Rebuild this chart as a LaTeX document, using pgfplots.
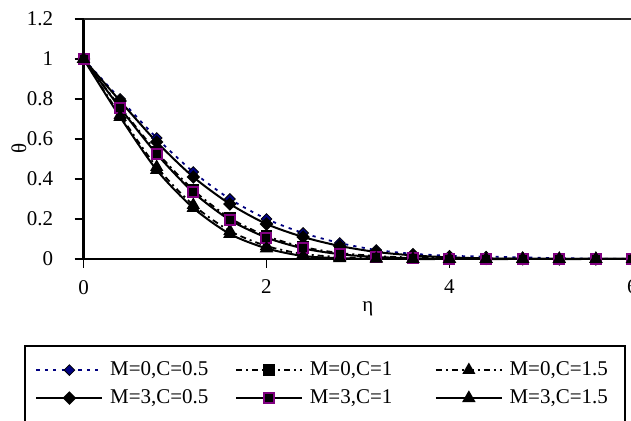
\documentclass[border=0pt]{standalone}
\usepackage{fontspec}
\setmainfont{Liberation Serif}
\usepackage{pgfplots}
\pgfplotsset{compat=1.18}
\definecolor{navyb}{RGB}{0,0,128}
\definecolor{purp}{RGB}{128,0,128}
\begin{document}
\begin{tikzpicture}
\begin{axis}[
  at={(41.75pt,81pt)}, anchor=south west,
  width=274.5pt, height=120pt, scale only axis,
  font=\fontsize{10.5}{12.6}\selectfont,
  xmin=0, xmax=6, ymin=0, ymax=1.2,
  xtick={0,2,4,6}, ytick={0,0.2,0.4,0.6,0.8,1,1.2},
  yticklabels={0,0.2,0.4,0.6,0.8,1,1.2},
  /pgf/number format/assume math mode=true,
  axis x line*=bottom, axis y line*=left,
  axis line style={line width=1.2pt, black},
  tick align=outside, major tick length=4.5pt,
  tick style={line width=0.6pt, black},
  ytick pos=left, xtick pos=bottom,
  yticklabel style={anchor=east, inner xsep=0pt},
  yticklabel shift=10.5pt,
  xticklabel style={anchor=north, yshift=-2.5pt},
  clip=false,
  legend columns=3,
  legend cell align=left,
  legend style={at={(axis description cs:-0.0883,-0.403)}, anchor=north west,
    draw=none, fill=none, inner sep=0pt,
    nodes={text width=52pt, text height=7.5pt, text depth=2.2pt, inner ysep=2.15pt, inner xsep=3.33pt},
    /tikz/every even column/.append style={column sep=7.2pt}},
  legend image code/.code={\draw[mark repeat=2,mark phase=2,#1] plot coordinates {(0pt,0pt) (16.5pt,0pt) (33pt,0pt)};},
]
% M=0, C=0.5
\addplot[navyb, line width=0.9pt, dash pattern=on 1.6pt off 2.6pt, smooth, tension=0.45,
  mark=square*, mark size=1.9pt, mark options={solid, rotate=45, fill=navyb, draw=black, line width=0.4pt}]
  coordinates {(0,1) (0.4,0.80) (0.8,0.605) (1.2,0.435) (1.6,0.30) (2.0,0.20) (2.4,0.13) (2.8,0.08) (3.2,0.045) (3.6,0.026) (4.0,0.016) (4.4,0.012) (4.8,0.008) (5.2,0.004) (5.6,0.002) (6.0,0)};
\addlegendentry{M=0,C=0.5}
% M=0, C=1
\addplot[black, line width=0.9pt, dash pattern=on 3pt off 2pt on 1pt off 2pt, smooth, tension=0.45,
  mark=square*, mark size=2.4pt, mark options={solid, fill=black}]
  coordinates {(0,1) (0.4,0.76) (0.8,0.535) (1.2,0.345) (1.6,0.205) (2.0,0.115) (2.4,0.06) (2.8,0.03) (3.2,0.015) (3.6,0.007) (4.0,0.003) (4.4,0.001) (4.8,0) (5.2,0) (5.6,0) (6.0,0)};
\addlegendentry{M=0,C=1}
% M=0, C=1.5
\addplot[black, line width=0.9pt, dash pattern=on 3pt off 2pt on 1pt off 2pt, smooth, tension=0.45,
  mark=triangle*, mark size=2.9pt, mark options={solid, fill=black}]
  coordinates {(0,1) (0.4,0.72) (0.8,0.46) (1.2,0.27) (1.6,0.14) (2.0,0.065) (2.4,0.025) (2.8,0.01) (3.2,0.003) (3.6,0.001) (4.0,0) (4.4,0) (4.8,0) (5.2,0) (5.6,0) (6.0,0)};
\addlegendentry{M=0,C=1.5}
% M=3, C=0.5
\addplot[black, line width=1pt, smooth, tension=0.45,
  mark=square*, mark size=1.9pt, mark options={solid, rotate=45, fill=black}]
  coordinates {(0,1) (0.4,0.79) (0.8,0.585) (1.2,0.41) (1.6,0.275) (2.0,0.175) (2.4,0.11) (2.8,0.065) (3.2,0.035) (3.6,0.018) (4.0,0.008) (4.4,0.003) (4.8,0.001) (5.2,0) (5.6,0) (6.0,0)};
\addlegendentry{M=3,C=0.5}
% M=3, C=1
\addplot[black, line width=1pt, smooth, tension=0.45,
  mark=square*, mark size=2.5pt, mark options={solid, fill=black, draw=purp, line width=1pt}]
  coordinates {(0,1) (0.4,0.755) (0.8,0.525) (1.2,0.333) (1.6,0.195) (2.0,0.107) (2.4,0.053) (2.8,0.024) (3.2,0.01) (3.6,0.004) (4.0,0.001) (4.4,0) (4.8,0) (5.2,0) (5.6,0) (6.0,0)};
\addlegendentry{M=3,C=1}
% M=3, C=1.5
\addplot[black, line width=1pt, smooth, tension=0.45,
  mark=triangle*, mark size=2.9pt, mark options={solid, fill=black}]
  coordinates {(0,1) (0.4,0.71) (0.8,0.445) (1.2,0.255) (1.6,0.125) (2.0,0.053) (2.4,0.015) (2.8,0.004) (3.2,0.001) (3.6,0) (4.0,0) (4.4,0) (4.8,0) (5.2,0) (5.6,0) (6.0,0)};
\addlegendentry{M=3,C=1.5}
\draw[line width=0.6pt, black!85] (rel axis cs:0,1) -- (rel axis cs:1,1);
\node[anchor=base] at ([yshift=-26.5pt]axis description cs:0.518,0) {η};
\end{axis}
\node[anchor=center, rotate=90, font=\fontsize{10.5}{12.6}\selectfont] at (9.5pt,136.25pt) {θ};
\draw[line width=0.7pt, black] (12.5pt,37.5pt) rectangle (312.5pt,-6pt);
\pgfresetboundingbox
\path[use as bounding box] (0pt,0pt) rectangle (315.5pt,210.5pt);
\end{tikzpicture}
\end{document}
